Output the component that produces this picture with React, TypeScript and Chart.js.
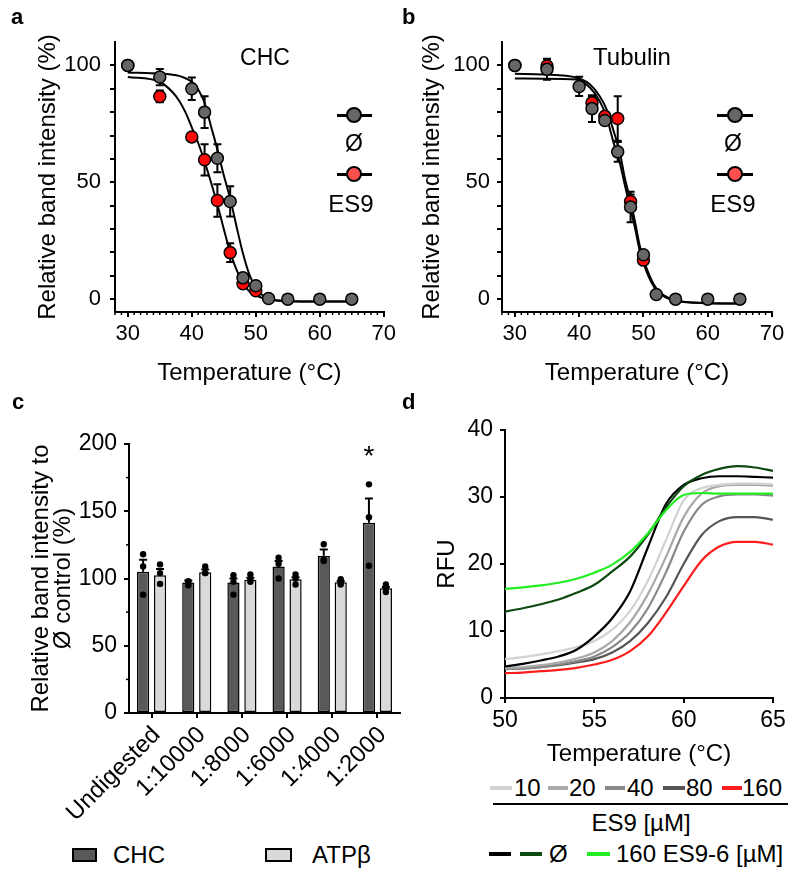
import React, { useEffect, useRef } from "react";
import { Chart, registerables } from "chart.js";
Chart.register(...registerables);

const FONT = "Arial, 'Liberation Sans', Helvetica, sans-serif";
Chart.defaults.font.family = FONT;
Chart.defaults.color = "#000";

// ---------- Panel a (CHC) ----------
const aTemp = [30, 35, 40, 42, 44, 46, 48, 50, 52, 55, 60, 65];
const aCtrl = [100, 95, 90, 80, 60.3, 41.8, 9.1, 5.7, 0.3, 0, 0, 0];
const aCtrlErr = [0, 3.5, 4.8, 6.8, 6, 6.5, 0, 0, 0, 0, 0, 0];
const aEs9Temp = [30, 35, 40, 42, 44, 46, 48, 50];
const aEs9 = [100, 86.7, 69.4, 59.6, 42.2, 19.9, 6.6, 3.6];
const aEs9Err = [0, 2.5, 0, 6.7, 7, 4, 0, 0];
const aFitTemp = [30, 35, 37, 38, 39, 40, 41, 42, 43, 44, 45, 46, 47, 48, 49, 50, 51, 52, 55, 60, 65];
const aFitCtrl = [97, 96.5, 96, 95.5, 94.5, 93, 89.7, 84, 74, 64, 53, 43, 31, 19.5, 10.5, 5, 1.8, 0.3, -0.9, -1, -1];
const aFitEs9 = [95, 93, 88.5, 85, 80, 73.5, 66.8, 58.9, 50, 40.5, 30, 20, 12.5, 6.8, 3.3, 1.7, 0.5, -0.2, -0.9, -1, -1];

// ---------- Panel b (Tubulin) ----------
const bTemp = [30, 35, 40, 42, 44, 46, 48, 50, 52, 55, 60, 65];
const bCtrl = [100, 98.3, 91, 81.5, 76.4, 63, 39.4, 19, 2, 0, 0, 0];
const bCtrlErr = [0, 4.5, 4.1, 5.7, 0, 4.2, 6.5, 0, 0, 0, 0, 0];
const bEs9Temp = [30, 35, 42, 44, 46, 48, 50];
const bEs9 = [100, 99.7, 84, 78.2, 77.3, 41.8, 16.7];
const bEs9Err = [0, 3, 2.5, 0, 9.5, 3, 0];
const bFitTemp = [30, 34.4, 39.6, 41.7, 43.2, 44.3, 45.3, 46.4, 47.1, 47.9, 48.7, 49.4, 50.5, 52, 54.1, 57.8, 65];
const bFitCtrl = [96.4, 96.1, 94.7, 91.8, 86.8, 81, 72.5, 61.8, 51.8, 43.2, 33, 23.2, 13.2, 4.6, 0.3, -1.4, -1.9];
const bFitEs9 = [94.4, 94.3, 94, 90.4, 84.7, 77.6, 67.5, 57.5, 48.9, 39.6, 30.3, 21, 11.7, 3.9, 0, -1.5, -1.9];

const abXTicks = [30, 40, 50, 60, 70];
const abYTicks = [0, 10, 20, 30, 40, 50, 60, 70, 80, 90, 100];
const abYLabels = [0, 50, 100];

// ---------- Panel c ----------
const cLabels = ["Undigested", "1:10000", "1:8000", "1:6000", "1:4000", "1:2000"];
const cCHC = [105, 97, 97, 109, 117, 141.5];
const cCHCErr = [9, 1.5, 3, 4, 4.5, 18];
const cATP = [102.5, 104.6, 99, 99.5, 97.2, 92.7];
const cATPErr = [4.5, 2, 1.5, 1.5, 1, 1];
const cCHCPts = [[118, 109, 88], [98, 95, 97.5], [102.5, 97.5, 88], [115.5, 111, 100], [125.5, 114, 113], [170, 145.5, 109.5]];
const cATPPts = [[110.5, 104, 96], [109, 104, 104], [103, 99, 97.5], [103, 100, 95.5], [99.5, 97, 95.5], [95.5, 93, 90]];
const cStars = ["", "", "", "", "", "*"];
const cStarLevel = 193;
const cYTicks = [0, 50, 100, 150, 200];
const cYMinor = [25, 75, 125, 175];

// ---------- Panel d ----------
const dTemp = [50, 51, 52, 53, 54, 55, 56, 57, 58, 59, 60, 61, 62, 63, 64, 65];
const dEs9_10 = [5.8, 6.1, 6.5, 7, 7.6, 8.5, 10.2, 13, 17.5, 23.5, 29.5, 31.3, 31.8, 32, 32, 31.9];
const dEs9_20 = [4.5, 4.6, 4.9, 5.3, 5.9, 6.8, 8.5, 11.3, 15.5, 21, 27, 30.5, 31.6, 31.8, 31.8, 31.7];
const dEs9_40 = [4.3, 4.4, 4.6, 5, 5.5, 6.2, 7.6, 9.8, 13.4, 18.7, 24.8, 28.8, 30.1, 30.4, 30.4, 30.2];
const dEs9_80 = [4.3, 4.4, 4.6, 4.9, 5.3, 5.8, 6.8, 8.5, 11.2, 15, 20, 24.3, 26.4, 27, 27, 26.6];
const dEs9_160 = [3.7, 3.8, 4, 4.2, 4.5, 5, 5.7, 7, 9.2, 12.7, 16.7, 20.5, 22.6, 23.3, 23.3, 22.9];
const dCtrlBlack = [4.7, 5.1, 5.6, 6.2, 7.2, 9.2, 11.9, 15.9, 22.5, 28.9, 31.8, 32.8, 33.1, 33.1, 33, 32.9];
const dCtrlGreen = [12.9, 13.4, 14, 14.7, 15.7, 16.9, 18.9, 21.1, 24.4, 28.4, 31.6, 33.3, 34.2, 34.6, 34.4, 33.9];
const dEs96 = [16.3, 16.5, 16.8, 17.2, 17.8, 18.7, 19.9, 21.8, 24.6, 28, 30.3, 30.6, 30.5, 30.5, 30.5, 30.5];
const dXTicks = [50, 55, 60, 65];
const dYTicks = [0, 10, 20, 30, 40];

const C_GRAY_PT = "#666666";
const C_RED_PT = "#ff0a0a";
const C_RED_LEG = "#ff4f4f";
const C_CHC = "#595959";
const C_ATP = "#d9d9d9";
const C_10 = "#d2d2d2";
const C_20 = "#a9a9a9";
const C_40 = "#888888";
const C_80 = "#555555";
const C_160 = "#ff1c1c";
const C_BLACK = "#000000";
const C_DKGREEN = "#0d4a10";
const C_LTGREEN = "#22ee22";

function range(a: number, b: number, step: number, skip: number[]) {
  const out: number[] = [];
  for (let v = a; v <= b + 1e-9; v += step) {
    const r = Math.round(v * 100) / 100;
    if (!skip.includes(r)) out.push(r);
  }
  return out;
}

// ---------- Plugins ----------
const minorTicks = {
  id: "minorTicks",
  afterDraw(chart: any, _a: any, opts: any) {
    const { ctx, chartArea } = chart;
    const xs = chart.scales.x;
    const ys = chart.scales.y;
    ctx.save();
    ctx.strokeStyle = "#000";
    ctx.lineWidth = 1.5;
    (opts.x || []).forEach((v: number) => {
      const px = xs.getPixelForValue(v);
      ctx.beginPath();
      ctx.moveTo(px, chartArea.bottom);
      ctx.lineTo(px, chartArea.bottom + opts.xLen);
      ctx.stroke();
    });
    (opts.y || []).forEach((v: number) => {
      const py = ys.getPixelForValue(v);
      ctx.beginPath();
      ctx.moveTo(chartArea.left - opts.yLen, py);
      ctx.lineTo(chartArea.left, py);
      ctx.stroke();
    });
    ctx.restore();
  },
};

const errorBars = {
  id: "errorBars",
  beforeDatasetsDraw(chart: any, _a: any, opts: any) {
    const { ctx } = chart;
    const ys = chart.scales.y;
    ctx.save();
    ctx.strokeStyle = "#000";
    ctx.lineWidth = 2;
    (opts.sets || []).forEach((s: any) => {
      const meta = chart.getDatasetMeta(s.index);
      const ds = chart.data.datasets[s.index];
      meta.data.forEach((el: any, i: number) => {
        const e = s.errors[i];
        if (!e) return;
        const v = ds.data[i].y;
        const x = el.x;
        const yt = ys.getPixelForValue(v + e);
        const yb = ys.getPixelForValue(v - e);
        ctx.beginPath();
        ctx.moveTo(x, yt);
        ctx.lineTo(x, yb);
        ctx.moveTo(x - 4, yt);
        ctx.lineTo(x + 4, yt);
        ctx.moveTo(x - 4, yb);
        ctx.lineTo(x + 4, yb);
        ctx.stroke();
      });
    });
    ctx.restore();
  },
};

const barExtras = {
  id: "barExtras",
  afterDatasetsDraw(chart: any, _a: any, opts: any) {
    const { ctx } = chart;
    const ys = chart.scales.y;
    ctx.save();
    (opts.sets || []).forEach((s: any) => {
      const meta = chart.getDatasetMeta(s.index);
      const ds = chart.data.datasets[s.index];
      meta.data.forEach((el: any, i: number) => {
        const x = el.x;
        const e = s.errors[i];
        const top = el.y;
        const yt = ys.getPixelForValue(ds.data[i] + e);
        ctx.strokeStyle = "#000";
        ctx.lineWidth = 2;
        ctx.beginPath();
        ctx.moveTo(x, top);
        ctx.lineTo(x, yt);
        ctx.moveTo(x - 4, yt);
        ctx.lineTo(x + 4, yt);
        ctx.stroke();
        ctx.fillStyle = "#000";
        s.points[i].forEach((p: number) => {
          ctx.beginPath();
          ctx.arc(x, ys.getPixelForValue(p), 3.2, 0, Math.PI * 2);
          ctx.fill();
        });
        if (s.stars && s.stars[i]) {
          ctx.font = `28px ${FONT}`;
          ctx.textAlign = "center";
          ctx.textBaseline = "middle";
          ctx.fillText(s.stars[i], x, ys.getPixelForValue(s.starLevel) + 4);
        }
      });
    });
    ctx.restore();
  },
};

function mkAxis(o: any) {
  const ax: any = {
    type: o.type || "linear",
    offset: o.offset ?? false,
    afterFit: (s: any) => {
      if (o.isX) s.height = o.size;
      else s.width = o.size;
    },
    border: { display: true, color: "#000", width: 2 },
    grid: {
      display: true,
      drawOnChartArea: false,
      drawTicks: true,
      tickLength: o.tickLen ?? 5,
      color: "#000",
      lineWidth: 2,
      offset: false,
    },
    ticks: {
      font: { size: o.tickFont ?? 22 },
      color: "#000",
      padding: o.tickPad ?? 4,
      autoSkip: false,
      maxRotation: o.rot ?? 0,
      minRotation: o.rot ?? 0,
      labelOffset: o.labelOffset ?? 0,
    },
    title: {
      display: true,
      text: o.title,
      font: { size: 24, lineHeight: o.lh ?? 1.2 },
      color: "#000",
      padding: o.titlePad,
    },
  };
  if (o.min !== undefined) ax.min = o.min;
  if (o.max !== undefined) ax.max = o.max;
  if (o.ticks) {
    ax.afterBuildTicks = (s: any) => {
      s.ticks = o.ticks.map((v: number) => ({ value: v }));
    };
  }
  if (o.cb) ax.ticks.callback = o.cb;
  return ax;
}

function meltCurve(xs: number[], ys: number[]) {
  return xs.map((x, i) => ({ x, y: ys[i] }));
}

function meltConfig(p: any) {
  return {
    type: "scatter",
    data: {
      datasets: [
        {
          data: meltCurve(p.temp, p.ctrl),
          showLine: false,
          pointRadius: 6,
          pointBackgroundColor: C_GRAY_PT,
          pointBorderColor: "#000",
          pointBorderWidth: 1.5,
          order: 0,
        },
        {
          data: meltCurve(p.es9Temp, p.es9),
          showLine: false,
          pointRadius: 6,
          pointBackgroundColor: C_RED_PT,
          pointBorderColor: "#000",
          pointBorderWidth: 1.5,
          order: 1,
        },
        {
          data: meltCurve(p.fitTemp, p.fitCtrl),
          showLine: true,
          pointRadius: 0,
          borderColor: "#000",
          borderWidth: 2,
          cubicInterpolationMode: "monotone",
          order: 2,
        },
        {
          data: meltCurve(p.fitTemp, p.fitEs9),
          showLine: true,
          pointRadius: 0,
          borderColor: "#000",
          borderWidth: 2,
          cubicInterpolationMode: "monotone",
          order: 3,
        },
      ],
    },
    options: {
      responsive: false,
      animation: false,
      events: [],
      layout: { padding: { left: 0, top: 42, right: p.padRight, bottom: 0 } },
      plugins: {
        legend: { display: false },
        tooltip: { enabled: false },
        minorTicks: { x: range(28, 70, 1, abXTicks), xLen: 3, y: [], yLen: 0 },
        errorBars: {
          sets: [
            { index: 0, errors: p.ctrlErr },
            { index: 1, errors: p.es9Err },
          ],
        },
      },
      scales: {
        x: mkAxis({
          isX: true,
          size: 78,
          min: 28,
          max: 70,
          ticks: abXTicks,
          tickPad: 4,
          title: "Temperature (°C)",
          titlePad: { top: 0, bottom: 2 },
        }),
        y: mkAxis({
          isX: false,
          size: p.yWidth,
          min: -5.5,
          max: 110,
          ticks: abYTicks,
          cb: (v: number) => (abYLabels.includes(v) ? String(v) : ""),
          tickPad: p.yTickPad,
          title: "Relative band intensity (%)",
          titlePad: { top: p.yTitlePad, bottom: 0 },
        }),
      },
    },
    plugins: [minorTicks, errorBars],
  };
}

const configA = () =>
  meltConfig({
    temp: aTemp, ctrl: aCtrl, ctrlErr: aCtrlErr,
    es9Temp: aEs9Temp, es9: aEs9, es9Err: aEs9Err,
    fitTemp: aFitTemp, fitCtrl: aFitCtrl, fitEs9: aFitEs9,
    padRight: 15, yWidth: 115, yTickPad: 9, yTitlePad: 34,
  });

const configB = () =>
  meltConfig({
    temp: bTemp, ctrl: bCtrl, ctrlErr: bCtrlErr,
    es9Temp: bEs9Temp, es9: bEs9, es9Err: bEs9Err,
    fitTemp: bFitTemp, fitCtrl: bFitCtrl, fitEs9: bFitEs9,
    padRight: 28, yWidth: 102, yTickPad: 7, yTitlePad: 18,
  });

const configC = () => ({
  type: "bar",
  data: {
    labels: cLabels,
    datasets: [
      {
        label: "CHC",
        data: cCHC,
        backgroundColor: C_CHC,
        borderColor: "#000",
        borderWidth: 1.5,
        borderSkipped: false,
        categoryPercentage: 0.75,
        barPercentage: 0.72,
      },
      {
        label: "ATPβ",
        data: cATP,
        backgroundColor: C_ATP,
        borderColor: "#000",
        borderWidth: 1.5,
        borderSkipped: false,
        categoryPercentage: 0.75,
        barPercentage: 0.72,
      },
    ],
  },
  options: {
    responsive: false,
    animation: false,
    events: [],
    layout: { padding: { left: 0, top: 54, right: 20, bottom: 0 } },
    plugins: {
      legend: { display: false },
      tooltip: { enabled: false },
      minorTicks: { x: [], xLen: 0, y: cYMinor, yLen: 3 },
      barExtras: {
        sets: [
          { index: 0, errors: cCHCErr, points: cCHCPts, stars: cStars, starLevel: cStarLevel },
          { index: 1, errors: cATPErr, points: cATPPts },
        ],
      },
    },
    scales: {
      x: mkAxis({
        type: "category",
        isX: true,
        size: 122,
        offset: true,
        rot: 45,
        tickPad: 3,
        labelOffset: 5,
        tickFont: 24,
        title: "",
        titlePad: 0,
      }),
      y: mkAxis({
        isX: false,
        size: 129,
        min: 0,
        max: 200,
        ticks: cYTicks,
        tickPad: 7,
        tickFont: 23,
        title: ["Relative band intensity to", "Ø control (%)"],
        lh: 0.92,
        titlePad: { top: 30, bottom: 0 },
      }),
    },
  },
  plugins: [minorTicks, barExtras],
});

function dLine(data: number[], color: string) {
  return {
    data: meltCurve(dTemp, data),
    showLine: true,
    pointRadius: 0,
    borderColor: color,
    borderWidth: 2.2,
    cubicInterpolationMode: "monotone",
  };
}

const configD = () => ({
  type: "scatter",
  data: {
    datasets: [
      dLine(dEs96, C_LTGREEN),
      dLine(dCtrlGreen, C_DKGREEN),
      dLine(dCtrlBlack, C_BLACK),
      dLine(dEs9_10, C_10),
      dLine(dEs9_20, C_20),
      dLine(dEs9_40, C_40),
      dLine(dEs9_80, C_80),
      dLine(dEs9_160, C_160),
    ],
  },
  options: {
    responsive: false,
    animation: false,
    events: [],
    layout: { padding: { left: 0, top: 40, right: 27, bottom: 0 } },
    plugins: {
      legend: { display: false },
      tooltip: { enabled: false },
      minorTicks: {
        x: range(50, 65, 1, dXTicks),
        xLen: 3,
        y: range(0, 40, 2, dYTicks),
        yLen: 3,
      },
    },
    scales: {
      x: mkAxis({
        isX: true,
        size: 72,
        min: 50,
        max: 65,
        ticks: dXTicks,
        tickPad: 4,
        tickFont: 23,
        title: "Temperature (°C)",
        titlePad: { top: 0, bottom: 1 },
      }),
      y: mkAxis({
        isX: false,
        size: 85,
        min: 0,
        max: 40,
        ticks: dYTicks,
        tickPad: 7,
        tickFont: 23,
        title: "RFU",
        titlePad: { top: 13, bottom: 0 },
      }),
    },
  },
});

function ChartBox({ left, top, width, height, make }: any) {
  const ref = useRef<HTMLCanvasElement>(null);
  useEffect(() => {
    const chart = new Chart(ref.current as HTMLCanvasElement, make());
    return () => chart.destroy();
  }, []);
  return (
    <canvas
      ref={ref}
      width={width}
      height={height}
      style={{ position: "absolute", left, top, width, height }}
    />
  );
}

function Txt({ x, y, children, size = 23, align = "center", bold = false }: any) {
  const tx = align === "center" ? "-50%" : align === "right" ? "-100%" : "0";
  return (
    <div
      style={{
        position: "absolute",
        left: x,
        top: y,
        transform: `translate(${tx},-50%)`,
        fontSize: size,
        lineHeight: 1,
        fontWeight: bold ? "bold" : "normal",
        whiteSpace: "nowrap",
      }}
    >
      {children}
    </div>
  );
}

function Rect({ x, y, w, h, bg, border }: any) {
  return (
    <div
      style={{
        position: "absolute",
        left: x,
        top: y,
        width: w,
        height: h,
        background: bg,
        border: border || "none",
        boxSizing: "border-box",
      }}
    />
  );
}

function Marker({ x1, x2, cx, cy, fill }: any) {
  return (
    <>
      <Rect x={x1} y={cy - 1.5} w={x2 - x1} h={3} bg="#000" />
      <div
        style={{
          position: "absolute",
          left: cx - 8,
          top: cy - 8,
          width: 16,
          height: 16,
          borderRadius: "50%",
          background: fill,
          border: "2px solid #000",
          boxSizing: "border-box",
        }}
      />
    </>
  );
}

const dLegendRow1 = [
  { x1: 490, x2: 512, color: C_10, tx: 514, label: "10" },
  { x1: 548, x2: 568, color: C_20, tx: 569, label: "20" },
  { x1: 605, x2: 625, color: C_40, tx: 627, label: "40" },
  { x1: 663, x2: 685, color: C_80, tx: 686, label: "80" },
  { x1: 722, x2: 742, color: C_160, tx: 742, label: "160" },
];

export default function App() {
  return (
    <div
      style={{
        position: "absolute",
        left: 0,
        top: 0,
        width: 800,
        height: 878,
        background: "#fff",
        fontFamily: FONT,
        color: "#000",
        overflow: "hidden",
      }}
    >
      <ChartBox left={0} top={0} width={400} height={390} make={configA} />
      <ChartBox left={400} top={0} width={400} height={390} make={configB} />
      <ChartBox left={0} top={390} width={420} height={445} make={configC} />
      <ChartBox left={420} top={390} width={380} height={380} make={configD} />

      {/* panel letters */}
      <Txt x={11} y={17} size={22} bold align="left">a</Txt>
      <Txt x={402} y={17} size={22} bold align="left">b</Txt>
      <Txt x={12} y={402} size={22} bold align="left">c</Txt>
      <Txt x={402} y={402} size={22} bold align="left">d</Txt>

      {/* panel a annotations */}
      <Txt x={265} y={57}>CHC</Txt>
      <Marker x1={337} x2={372} cx={354} cy={115} fill={C_GRAY_PT} />
      <Txt x={354} y={143}>Ø</Txt>
      <Marker x1={337} x2={372} cx={354} cy={174} fill={C_RED_LEG} />
      <Txt x={351} y={204} size={24}>ES9</Txt>

      {/* panel b annotations */}
      <Txt x={632} y={57} size={24}>Tubulin</Txt>
      <Marker x1={717} x2={753} cx={735} cy={115} fill={C_GRAY_PT} />
      <Txt x={733} y={143}>Ø</Txt>
      <Marker x1={717} x2={753} cx={735} cy={174} fill={C_RED_LEG} />
      <Txt x={733} y={204} size={24}>ES9</Txt>

      {/* panel c legend */}
      <Rect x={72} y={848} w={25} h={14} bg={C_CHC} border="2px solid #000" />
      <Txt x={113} y={855} size={24} align="left">CHC</Txt>
      <Rect x={265} y={848} w={27} h={14} bg={C_ATP} border="2px solid #000" />
      <Txt x={312} y={855} size={24} align="left">ATPβ</Txt>

      {/* panel d legend */}
      {dLegendRow1.map((r) => (
        <React.Fragment key={r.label}>
          <Rect x={r.x1} y={786} w={r.x2 - r.x1} h={4} bg={r.color} />
          <Txt x={r.tx} y={788} size={24} align="left">{r.label}</Txt>
        </React.Fragment>
      ))}
      <Rect x={493} y={803} w={295} h={2} bg="#000" />
      <Txt x={641} y={823} size={24}>ES9 [µM]</Txt>
      <Rect x={489} y={852} w={22} h={4} bg={C_BLACK} />
      <Rect x={520} y={852} w={22} h={4} bg={C_DKGREEN} />
      <Txt x={549} y={854} size={24} align="left">Ø</Txt>
      <Rect x={587} y={852} w={23} h={4} bg={C_LTGREEN} />
      <Txt x={616} y={854} size={24} align="left">160 ES9-6 [µM]</Txt>
    </div>
  );
}
